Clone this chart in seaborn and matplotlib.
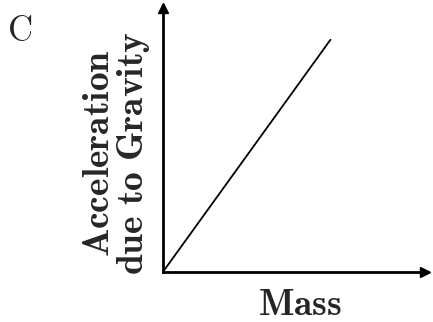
import matplotlib
matplotlib.use('Agg')
import matplotlib.pyplot as plt
import seaborn as sns
import pandas as pd

sns.set_style('white')
plt.rcParams['mathtext.fontset'] = 'cm'
plt.rcParams['font.family'] = ['DejaVu Serif']

# data: straight line through the origin
mass = [0.0, 0.64]
acceleration = [0.0, 0.88]
df = pd.DataFrame({'Mass': mass, 'Acceleration': acceleration})

fig = plt.figure(figsize=(4.33, 3.22), dpi=100)
ax = fig.add_axes([0.376, 0.155, 0.605, 0.82])

sns.lineplot(data=df, x='Mass', y='Acceleration', ax=ax, color='black', linewidth=1.3)

ax.set_xlim(0, 1)
ax.set_ylim(0, 1)
ax.set_xticks([])
ax.set_yticks([])
for s in ['top', 'right']:
    ax.spines[s].set_visible(False)
for s in ['left', 'bottom']:
    ax.spines[s].set_linewidth(2)
    ax.spines[s].set_color('black')

# arrow heads at axis ends
ax.plot(1, 0, '>k', ms=7, transform=ax.get_yaxis_transform(), clip_on=False)
ax.plot(0, 1, '^k', ms=7, transform=ax.get_xaxis_transform(), clip_on=False)

ax.set_xlabel(r'$\mathbf{Mass}$', fontsize=27, labelpad=11, x=0.525)
ax.set_ylabel('$\\mathbf{Acceleration}$\n$\\mathbf{due\\ to\\ Gravity}$',
              fontsize=27, labelpad=8, linespacing=0.9, y=0.45)

fig.text(0.016, 0.955, r'$\mathrm{C}$', fontsize=25, va='top', ha='left')

fig.savefig('out.png', dpi=100)
plt.close()
